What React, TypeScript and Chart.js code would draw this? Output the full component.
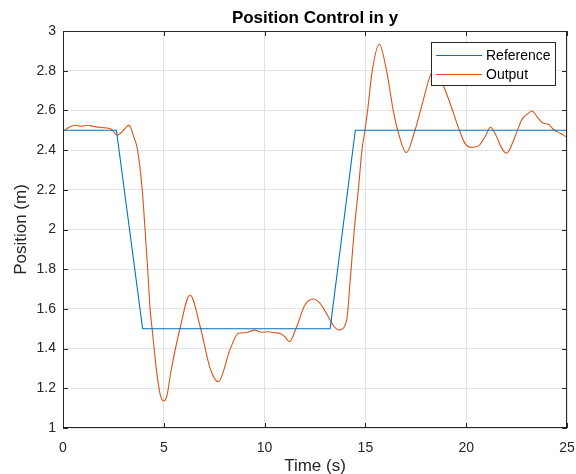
import React, { useEffect, useRef } from "react";
import { Chart, registerables } from "chart.js";

Chart.register(...registerables);

const refTime = [0, 2.65, 3.95, 13.25, 14.5, 25];
const refPos = [2.5, 2.5, 1.5, 1.5, 2.5, 2.5];

const outTime = [
  0, 0.3, 0.6, 0.9, 1.2, 1.5, 1.8, 2.1, 2.4, 2.7, 3.0, 3.27, 3.5, 3.7, 3.93, 4.07, 4.2, 4.32, 4.42, 4.65,
  4.82, 5.0, 5.17, 5.34, 5.8, 6.3, 6.83, 7.3, 7.7, 8.3, 8.7, 9.03, 9.52, 9.86, 10.18, 10.5, 10.76, 11.0, 11.23, 11.59,
  12.0, 12.42, 12.75, 13.16, 13.45, 13.7, 14.07, 14.25, 14.45, 14.65, 14.83, 14.98, 15.11, 15.34, 15.69,
  16.05, 16.38, 16.6, 17.03, 17.46, 17.87, 18.2, 18.5, 18.85, 19.2, 19.6, 19.94, 20.27, 20.6, 20.93, 21.21,
  21.51, 21.76, 22.0, 22.42, 22.75, 23.08, 23.25, 23.58, 23.83, 24.08, 24.32, 24.65, 25.0,
];
const outPos = [
  2.495, 2.515, 2.525, 2.52, 2.525, 2.52, 2.515, 2.512, 2.505, 2.476, 2.5, 2.526, 2.47, 2.4, 2.2, 2.0, 1.8, 1.6, 1.5, 1.28,
  1.17, 1.136, 1.17, 1.277, 1.5, 1.67, 1.5, 1.3, 1.233, 1.4, 1.477, 1.48, 1.493, 1.482, 1.485, 1.48, 1.477, 1.46, 1.435, 1.51,
  1.62, 1.65, 1.628, 1.56, 1.51, 1.494, 1.544, 1.75, 2.0, 2.2, 2.4, 2.5, 2.6, 2.8, 2.933,
  2.8, 2.6, 2.5, 2.387, 2.5, 2.652, 2.77, 2.82, 2.73, 2.636, 2.518, 2.434, 2.414, 2.42, 2.467, 2.515,
  2.467, 2.41, 2.384, 2.467, 2.552, 2.585, 2.597, 2.56, 2.535, 2.53, 2.505, 2.485, 2.465,
];

const xTicks = [0, 5, 10, 15, 20, 25];
const yTicks = [1, 1.2, 1.4, 1.6, 1.8, 2, 2.2, 2.4, 2.6, 2.8, 3];
const seriesNames = ["Reference", "Output"];
const seriesColors = ["#0072BD", "#D95319"];
const titleText = "Position Control in y";
const xLabel = "Time (s)";
const yLabel = "Position (m)";

const FONT = "'Liberation Sans', Arial, Helvetica, sans-serif";
const AXIS = "#262626";

const overlay = {
  id: "matlabOverlay",
  afterDraw(chart: any) {
    const { ctx, chartArea } = chart;
    const { left, right, top, bottom } = chartArea;
    const xs = chart.scales.x;
    const ys = chart.scales.y;
    ctx.save();
    ctx.strokeStyle = AXIS;
    ctx.lineWidth = 1;
    ctx.strokeRect(left + 0.5, top + 0.5, right - left - 1, bottom - top - 1);
    const tl = 5;
    ctx.beginPath();
    xTicks.forEach((t) => {
      const px = Math.round(xs.getPixelForValue(t)) + 0.5;
      ctx.moveTo(px, bottom);
      ctx.lineTo(px, bottom - tl);
      ctx.moveTo(px, top);
      ctx.lineTo(px, top + tl);
    });
    yTicks.forEach((v) => {
      const py = Math.round(ys.getPixelForValue(v)) + 0.5;
      ctx.moveTo(left, py);
      ctx.lineTo(left + tl, py);
      ctx.moveTo(right, py);
      ctx.lineTo(right - tl, py);
    });
    ctx.stroke();

    ctx.fillStyle = "#000";
    ctx.font = `bold 17px ${FONT}`;
    ctx.textAlign = "center";
    ctx.textBaseline = "alphabetic";
    ctx.fillText(titleText, (left + right) / 2, 23);

    ctx.fillStyle = AXIS;
    ctx.font = `17px ${FONT}`;
    ctx.fillText(xLabel, (left + right) / 2, 471);
    ctx.save();
    ctx.translate(26, (top + bottom) / 2);
    ctx.rotate(-Math.PI / 2);
    ctx.fillText(yLabel, 0, 0);
    ctx.restore();

    const lx = 431, ly = 42, lw = 124, lh = 43;
    ctx.fillStyle = "#fff";
    ctx.fillRect(lx, ly, lw, lh);
    ctx.strokeStyle = AXIS;
    ctx.strokeRect(lx + 0.5, ly + 0.5, lw, lh);
    const rows = [55, 74];
    ctx.font = `14px ${FONT}`;
    ctx.textAlign = "left";
    ctx.textBaseline = "middle";
    seriesNames.forEach((n, i) => {
      ctx.strokeStyle = seriesColors[i];
      ctx.beginPath();
      ctx.moveTo(436, rows[i] + 0.5);
      ctx.lineTo(482, rows[i] + 0.5);
      ctx.stroke();
      ctx.fillStyle = "#000";
      ctx.fillText(n, 486, rows[i] + 1);
    });
    ctx.restore();
  },
};

export default function App() {
  const ref = useRef<HTMLCanvasElement>(null);
  useEffect(() => {
    if (!ref.current) return;
    const chart = new Chart(ref.current, {
      type: "line",
      data: {
        datasets: [
          {
            label: seriesNames[0],
            data: refTime.map((t, i) => ({ x: t, y: refPos[i] })),
            borderColor: seriesColors[0],
            borderWidth: 1.1,
            pointRadius: 0,
            tension: 0,
          },
          {
            label: seriesNames[1],
            data: outTime.map((t, i) => ({ x: t, y: outPos[i] })),
            borderColor: seriesColors[1],
            borderWidth: 1.1,
            pointRadius: 0,
            cubicInterpolationMode: "monotone",
          },
        ],
      },
      options: {
        animation: false,
        responsive: false,
        layout: { padding: { left: 0, top: 31, right: 9, bottom: 0 } },
        plugins: { legend: { display: false }, title: { display: false }, tooltip: { enabled: false } },
        scales: {
          x: {
            type: "linear",
            min: 0,
            max: 25,
            afterFit: (s: any) => { s.height = 46; s.paddingLeft = 0; s.paddingRight = 0; },
            afterBuildTicks: (s: any) => { s.ticks = xTicks.map((v) => ({ value: v })); },
            grid: { color: "#e3e3e3", drawTicks: false, tickLength: 0 },
            border: { display: false },
            ticks: { color: AXIS, font: { family: FONT, size: 14 }, padding: 12, maxRotation: 0, callback: (v: any) => String(v) },
          },
          y: {
            type: "linear",
            min: 1,
            max: 3,
            afterFit: (s: any) => { s.width = 63; s.paddingTop = 0; s.paddingBottom = 0; },
            afterBuildTicks: (s: any) => { s.ticks = yTicks.map((v) => ({ value: v })); },
            grid: { color: "#e3e3e3", drawTicks: false, tickLength: 0 },
            border: { display: false },
            ticks: { color: AXIS, font: { family: FONT, size: 14 }, padding: 7, callback: (v: any) => String(Math.round(v * 10) / 10) },
          },
        },
      },
      plugins: [overlay],
    });
    return () => chart.destroy();
  }, []);
  return (
    <div style={{ position: "fixed", left: 0, top: 0, width: 576, height: 474, background: "#fff" }}>
      <canvas ref={ref} width={576} height={474} style={{ width: 576, height: 474 }} />
    </div>
  );
}
